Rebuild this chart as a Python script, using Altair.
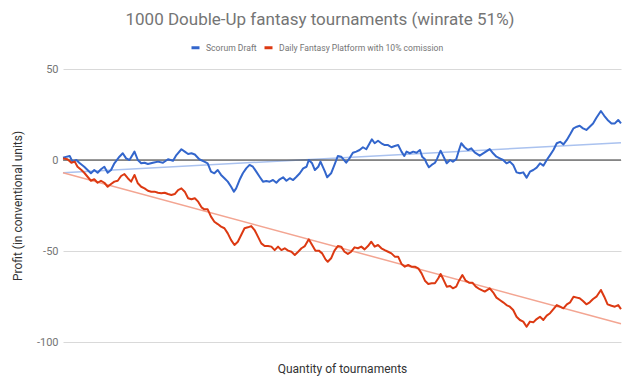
import altair as alt
import pandas as pd

chart_title = "1000 Double-Up fantasy tournaments (winrate 51%)"
series_names = ["Scorum Draft", "Daily Fantasy Platform with 10% comission"]
series_colors = ["#3366cc", "#dc3912"]
trend_colors = ["#aac2ef", "#f3a592"]
y_title = "Profit (in conventional units)"
x_title = "Quantity of tournaments"
y_ticks = [-100, -50, 0, 50]

scorum_t = [1, 13, 18, 25, 30, 39, 45, 51, 57, 63, 69, 75, 81, 87, 93, 102, 108, 114, 120, 129,
            135, 141, 147, 153, 162, 171, 180, 189, 198, 204, 213, 219, 225, 231, 237, 245, 254, 260, 266, 272,
            278, 284, 290, 296, 302, 307, 311, 317, 323, 329, 335, 341, 347, 353, 359, 365, 371, 377, 383, 389,
            395, 401, 407, 413, 419, 425, 431, 437, 441, 447, 452, 458, 462, 470, 474, 481, 487, 493, 499, 508,
            514, 520, 526, 532, 538, 544, 550, 554, 559, 565, 571, 577, 583, 589, 595, 601, 607, 612, 616, 622,
            628, 634, 640, 644, 649, 652, 656, 661, 667, 671, 677, 681, 688, 694, 699, 705, 710, 714, 720, 726,
            732, 738, 747, 756, 765, 771, 777, 783, 789, 795, 801, 807, 813, 819, 825, 831, 837, 843, 849, 855,
            861, 867, 873, 879, 885, 891, 897, 903, 909, 915, 921, 926, 932, 938, 944, 950, 956, 964, 970, 976,
            983, 989, 995, 1000]
scorum_v = [1.3, 2.2, -0.9, 0, -1.5, -3.7, -5.5, -7.3, -5.5, -7, -5.1, -3.7, -7, -5.5, -1.8, 1.8, 3.7, 0.9, 0, 4.6,
            0, -1.8, -1.5, -2.2, -1.5, -0.9, -1.5, 0.4, -0.4, 2.7, 5.9, 4.6, 3.3, 3.7, 3, 0.4, -0.9, -1.8, -6.4, -7.3,
            -5.5, -8.2, -10, -11.9, -14.7, -17.4, -15.6, -11, -7.3, -4.6, -2.7, -3.7, -6.4, -9.2, -11.9, -11.5, -11.9, -11, -12.5, -10.6,
            -9.5, -11.4, -10, -11, -9.2, -7.3, -4.6, -3.7, 0, -1.8, -5.5, -3.7, -0.9, -6.4, -9.5, -7.3, -2.7, 2.2, 1.8, -1.5,
            0.9, 4, 4.6, 5.5, 7, 5.9, 9.2, 11.4, 9.2, 10.6, 9.2, 8.2, 8.2, 7, 7.7, 8.2, 4.6, 2.2, 4.6, 3.7,
            4.6, 4, 5.5, 1.8, 0.4, -1.8, -4, -2.7, -1.5, 0.9, 5.1, 2.7, -1.8, 0, -0.9, 0.4, 5.5, 9.2, 7, 5.5,
            6.4, 4.2, 2.4, 4.2, 6, 3.7, 1.8, 0.9, 0, -1.8, -0.9, -2.7, -6.8, -7.3, -6.8, -9.7, -6.4, -5.5, -4.2, -1.8,
            -3.1, 0, 2.7, 5.5, 9.2, 10, 8.6, 11, 14.1, 17.4, 18.3, 18.8, 17.4, 16.5, 18.3, 20.1, 23.2, 26.9, 24.3, 22,
            20.1, 20.1, 22, 20.1]

dfp_t = [1, 9, 16, 22, 27, 34, 39, 45, 51, 57, 63, 69, 75, 81, 87, 93, 99, 105, 111, 117,
         123, 129, 135, 141, 147, 153, 159, 165, 171, 177, 183, 189, 195, 201, 207, 213, 219, 225, 231, 237,
         243, 249, 254, 260, 266, 272, 278, 284, 290, 296, 302, 308, 314, 320, 326, 332, 338, 344, 350, 356,
         362, 368, 374, 380, 386, 392, 398, 404, 410, 416, 422, 428, 434, 441, 447, 453, 459, 465, 471, 475,
         481, 487, 493, 499, 505, 511, 517, 523, 529, 535, 541, 547, 553, 559, 565, 571, 577, 583, 589, 595,
         601, 607, 613, 619, 625, 631, 637, 643, 649, 655, 661, 667, 673, 677, 681, 688, 694, 699, 705, 710,
         716, 722, 728, 734, 740, 747, 756, 765, 771, 777, 783, 789, 795, 801, 807, 813, 819, 825, 831, 837,
         843, 849, 855, 861, 867, 873, 879, 885, 891, 897, 903, 909, 915, 921, 926, 932, 938, 944, 950, 956,
         964, 970, 976, 983, 989, 995, 1000]
dfp_v = [0.9, 0.4, -1.5, -0.9, -3.7, -5.5, -7, -9.2, -11.4, -10.6, -12.5, -11.4, -12.5, -14.7, -13.2, -11.9, -11.4, -8.8, -7.7, -10,
         -11.9, -8.2, -12.8, -14.7, -15.6, -16.9, -17.4, -17.4, -18, -18.3, -18, -18.7, -19.2, -18.7, -16.5, -15.6, -17.4, -21, -21.6, -21,
         -22.9, -26, -27.1, -27.1, -31.1, -33.9, -35.2, -36.6, -37.5, -40.3, -44, -46.7, -44.9, -41.2, -37.5, -37, -36.3, -38.5, -42.1, -45.8,
         -47.3, -47.3, -47.6, -49.5, -47.6, -49.5, -48.5, -49.8, -50.4, -52.2, -50.4, -48.5, -47.3, -43.6, -46.7, -49.8, -49.8, -51.3, -54.6, -55.9,
         -54, -49.8, -47.3, -47.6, -50.4, -51.6, -50.4, -48, -48.5, -47.6, -49.1, -47.3, -44.9, -47.6, -46.7, -48.5, -49.5, -50.4, -51.3, -53.1,
         -53.1, -57.1, -58.6, -57.7, -58.6, -58.6, -59.5, -62.3, -66.3, -68.1, -67.7, -67.7, -65, -62.6, -65, -69.6, -69.2, -70.5, -69.6, -66.3,
         -63.2, -66.3, -67.4, -67.4, -69.6, -71, -72.3, -70.5, -72.7, -75.6, -76.9, -78.2, -79.7, -80.6, -82.4, -86.1, -87.9, -88.8, -91.6, -88.8,
         -89.2, -87.4, -86.1, -87.9, -85.5, -84.2, -81.9, -79.7, -80.6, -81.5, -79.3, -78.2, -75.1, -75.6, -76, -77.5, -79.3, -78.2, -76.4, -75.1,
         -71.4, -75.1, -79.3, -80.1, -80.6, -79.7, -81.9]

trend_t = [1, 1000]
scorum_trend = [-7, 9.5]
dfp_trend = [-7, -90]

lines = pd.concat([
    pd.DataFrame({"t": scorum_t, "v": scorum_v, "s": series_names[0], "o": 0}),
    pd.DataFrame({"t": dfp_t, "v": dfp_v, "s": series_names[1], "o": 1}),
])
trends = pd.concat([
    pd.DataFrame({"t": trend_t, "v": scorum_trend, "s": "t0"}),
    pd.DataFrame({"t": trend_t, "v": dfp_trend, "s": "t1"}),
])
zero = pd.DataFrame({"v": [0]})

x_enc = alt.X("t:Q", scale=alt.Scale(domain=[1, 1000], nice=False, zero=False),
              axis=alt.Axis(title=x_title, labels=False, ticks=False, domain=False, grid=False,
                            titleFont="Roboto", titleFontSize=12, titleColor="#333333",
                            titleFontWeight="normal", titleY=26, titleBaseline="middle"))
y_scale = alt.Scale(domain=[-100, 50], nice=False)
y_enc = alt.Y("v:Q", scale=y_scale,
              axis=alt.Axis(title=y_title, values=y_ticks, ticks=False, domain=False, grid=True,
                            gridColor="#d9d9d9", gridWidth=1, labelExpr="datum.value + ''",
                            labelFont="Roboto", labelFontSize=11, labelColor="#757575", labelPadding=5,
                            titleFont="Roboto", titleFontSize=12, titleColor="#333333",
                            titleFontWeight="normal", titleX=-46, titleY=136.5, titleBaseline="middle"))

base_axes = alt.Chart(zero).mark_rule(opacity=0).encode(x=alt.value(0), y=y_enc)

zero_rule = alt.Chart(zero).mark_rule(color="#333333", strokeWidth=1).encode(
    y=alt.Y("v:Q", scale=y_scale))

trend_layer = alt.Chart(trends).mark_line(strokeWidth=1.5).encode(
    x=x_enc,
    y=alt.Y("v:Q", scale=y_scale),
    detail="s:N",
    color=alt.Color("s:N", scale=alt.Scale(domain=["t0", "t1"], range=trend_colors), legend=None),
)

line_layer = alt.Chart(lines).mark_line(strokeWidth=2, strokeJoin="round").encode(
    x=x_enc,
    y=alt.Y("v:Q", scale=y_scale),
    order="o:Q",
    stroke=alt.Stroke("s:N", scale=alt.Scale(domain=series_names, range=series_colors),
                      legend=alt.Legend(title=None, orient="none", direction="horizontal",
                                        legendX=127, legendY=-27, labelLimit=0,
                                        symbolType="stroke", symbolStrokeWidth=3, symbolSize=64,
                                        labelFont="Roboto", labelFontSize=8.6, labelColor="#757575",
                                        labelOffset=5, columnPadding=1)),
)

chart = alt.layer(base_axes, trend_layer, zero_rule, line_layer).resolve_scale(
    color="independent"
).properties(
    width=558, height=273,
    title=alt.TitleParams(chart_title, font="Roboto", fontSize=17, fontWeight="normal",
                          color="#757575", anchor="middle", dx=-22, offset=13),
    autosize=alt.AutoSizeParams(type="none"),
    padding={"left": 55, "top": 61, "right": 11, "bottom": 34},
).configure_view(stroke=None)

chart.save("out.html", embed_options={"renderer": "svg", "actions": False})
